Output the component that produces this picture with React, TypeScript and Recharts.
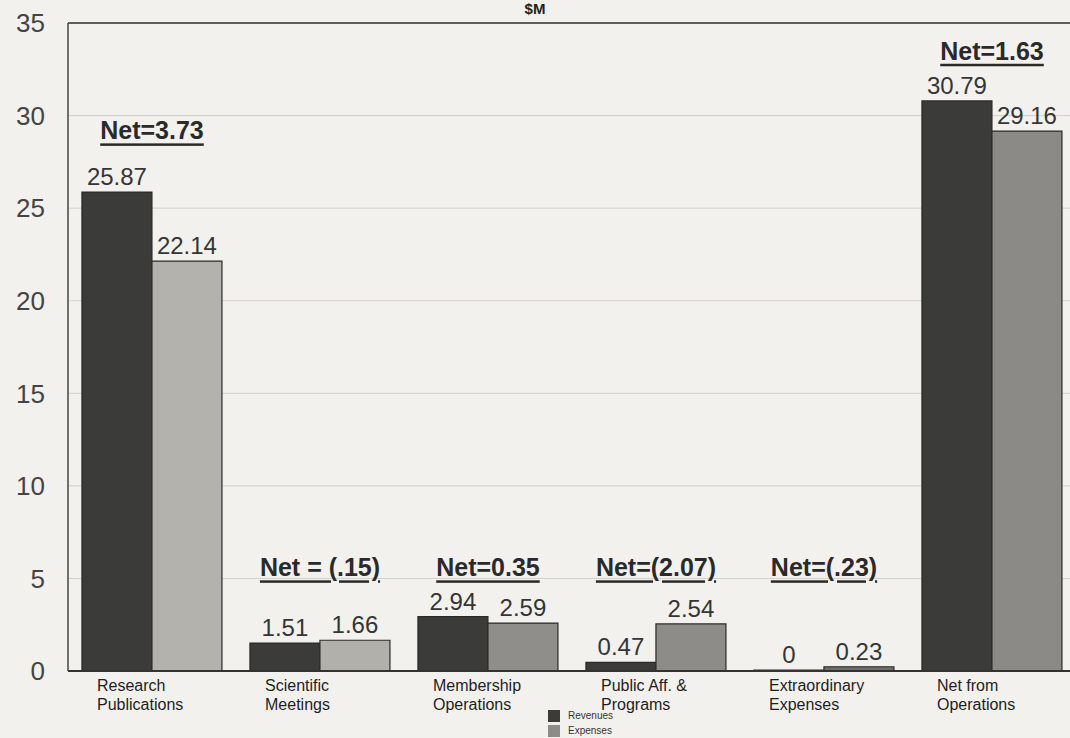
import React from "react";
import {
  Bar,
  CartesianGrid,
  Cell,
  ComposedChart,
  LabelList,
  ReferenceLine,
  Scatter,
  XAxis,
  YAxis,
} from "recharts";

const categories = [
  "Research\nPublications",
  "Scientific\nMeetings",
  "Membership\nOperations",
  "Public Aff. &\nPrograms",
  "Extraordinary\nExpenses",
  "Net from\nOperations",
];
const revenues = [25.87, 1.51, 2.94, 0.47, 0, 30.79];
const expenses = [22.14, 1.66, 2.59, 2.54, 0.23, 29.16];
const netLabels = ["Net=3.73", "Net = (.15)", "Net=0.35", "Net=(2.07)", "Net=(.23)", "Net=1.63"];
// height (in $M) at which each net note sits
const netLevels = [29.2, 5.6, 5.6, 5.6, 5.6, 33.5];
const yTicks = [0, 5, 10, 15, 20, 25, 30, 35];
const minorTicks = [0, 2.5, 5, 7.5, 10, 12.5, 15, 17.5, 20, 22.5, 25, 27.5, 30, 32.5, 35];

const FONT = "'Liberation Sans', Arial, Helvetica, sans-serif";
const REV_COLOR = "#3b3b39";
const EXP_COLORS = ["#b3b2ad", "#b1b0ab", "#8f8e8a", "#8d8c88", "#6e6d6a", "#8b8a86"];

const data = categories.map((name, i) => ({
  name,
  revenue: revenues[i],
  expense: expenses[i],
  net: netLabels[i],
  netLevel: netLevels[i],
}));

function CategoryTick(props: any) {
  const { x, y, payload } = props;
  const lines = String(payload.value).split("\n");
  return (
    <g>
      {lines.map((line, i) => (
        <text
          key={i}
          x={x - 55}
          y={y + 12 + i * 19}
          textAnchor="start"
          fontSize={16}
          fontFamily={FONT}
          fill="#1e1e1e"
        >
          {line}
        </text>
      ))}
    </g>
  );
}

function NetNote(props: any) {
  const { cx, cy, payload } = props;
  if (cx == null || cy == null) return null;
  return (
    <text
      x={cx}
      y={cy}
      textAnchor="middle"
      dominantBaseline="central"
      fontSize={25}
      fontWeight="bold"
      fontFamily={FONT}
      fill="#2a2a2a"
      style={{ textDecoration: "underline" }}
    >
      {payload.net}
    </text>
  );
}

function ValueLabel(props: any) {
  const { x, y, width, value } = props;
  if (x == null || y == null) return null;
  return (
    <text
      x={Number(x) + Number(width) / 2}
      y={Number(y) - 7}
      textAnchor="middle"
      fontSize={24}
      fontFamily={FONT}
      fill="#353535"
    >
      {value}
    </text>
  );
}

export default function App() {
  return (
    <div
      style={{
        position: "absolute",
        top: 0,
        left: 0,
        width: 1070,
        height: 738,
        overflow: "hidden",
        background: "#f3f1ee",
        fontFamily: FONT,
      }}
    >
      <div
        style={{
          position: "absolute",
          top: 0,
          left: 0,
          width: 1070,
          textAlign: "center",
          fontSize: 15,
          lineHeight: "17px",
          fontWeight: "bold",
          color: "#222",
        }}
      >
        $M
      </div>
      <ComposedChart
        width={1080}
        height={738}
        data={data}
        margin={{ top: 23, right: 4, bottom: 0, left: 8 }}
        barCategoryGap="8.3%"
        barGap={0}
      >
        <CartesianGrid vertical={false} stroke="#d2d0cc" />
        <XAxis
          dataKey="name"
          height={67}
          axisLine={{ stroke: "#333", strokeWidth: 2 }}
          tickLine={false}
          tick={<CategoryTick />}
          interval={0}
        />
        <YAxis
          domain={[0, 35]}
          ticks={yTicks}
          width={60}
          tickLine={false}
          tickSize={0}
          tickMargin={23}
          axisLine={{ stroke: "#444", strokeWidth: 1.5 }}
          tick={{ fontSize: 26, fill: "#444", fontFamily: FONT }}
        />
        <YAxis
          yAxisId="minor"
          domain={[0, 35]}
          ticks={minorTicks}
          mirror
          axisLine={false}
          tick={false}
          tickSize={8}
          tickLine={{ stroke: "#555" }}
        />
        <ReferenceLine y={35} stroke="#333" strokeWidth={1.5} />
        <Bar
          dataKey="revenue"
          name="Revenues"
          fill={REV_COLOR}
          stroke="#2a2a2a"
          strokeWidth={1.2}
          minPointSize={1}
          isAnimationActive={false}
        >
          <LabelList dataKey="revenue" content={<ValueLabel />} />
        </Bar>
        <Bar dataKey="expense" name="Expenses" stroke="#2a2a2a" strokeWidth={1.2} isAnimationActive={false}>
          {data.map((_, i) => (
            <Cell key={i} fill={EXP_COLORS[i]} />
          ))}
          <LabelList dataKey="expense" content={<ValueLabel />} />
        </Bar>
        <Scatter dataKey="netLevel" shape={<NetNote />} legendType="none" isAnimationActive={false} />
      </ComposedChart>
      <div style={{ position: "absolute", left: 548, top: 708, fontSize: 10, lineHeight: "12px", color: "#333" }}>
        <div style={{ display: "flex", alignItems: "center", height: 15 }}>
          <span style={{ width: 12, height: 12, background: REV_COLOR, marginRight: 8, display: "inline-block" }} />
          Revenues
        </div>
        <div style={{ display: "flex", alignItems: "center", height: 15 }}>
          <span style={{ width: 12, height: 12, background: "#8d8c88", marginRight: 8, display: "inline-block" }} />
          Expenses
        </div>
      </div>
    </div>
  );
}
